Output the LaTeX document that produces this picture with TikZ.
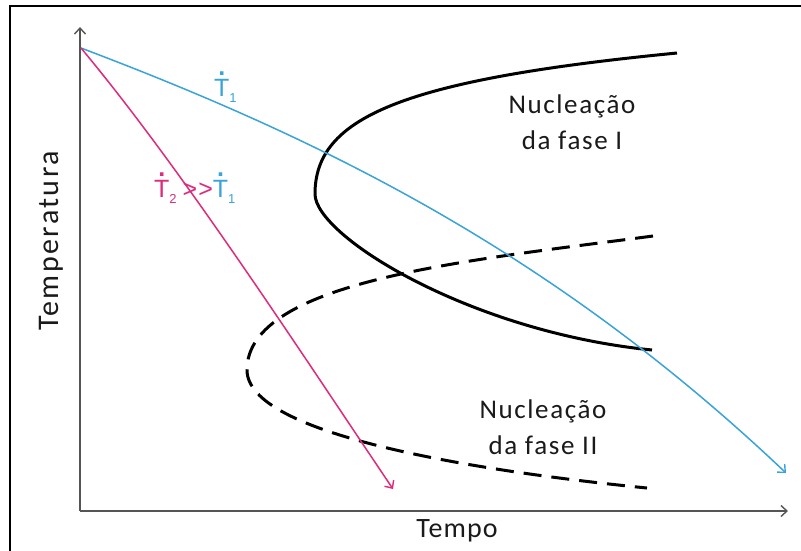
\documentclass[tikz,border=0pt]{standalone}
\usepackage{fontspec}
\setmainfont{Carlito}
\newfontfamily\ratefont{Liberation Sans}
\usetikzlibrary{arrows.meta,positioning}
\definecolor{diagramText}{HTML}{1A1A1A}
\definecolor{axisColor}{HTML}{555555}
\definecolor{slowColor}{HTML}{3AA3DA}
\definecolor{fastColor}{HTML}{DD2C7C}
\newcommand{\ratemath}[1]{\ooalign{T\cr\hidewidth\raisebox{0.84em}{\textbf{.}}\hidewidth\cr}\raisebox{-0.27em}{\fontsize{13}{13}\selectfont #1}}

\begin{document}
\begin{tikzpicture}[
  x=1pt, y=-1pt,
  barb/.tip={Straight Barb[length=6pt,width=11pt,line width=1.4pt]},
  frame/.style={draw=black, line width=2pt},
  axis/.style={-barb, draw=axisColor, line width=1.8pt},
  label/.style={text=diagramText, font=\fontsize{28}{34}\selectfont\addfontfeature{LetterSpace=4}, inner sep=0pt},
  phase/.style={text=diagramText, align=center, font=\fontsize{27}{36}\selectfont\addfontfeature{LetterSpace=6}, inner sep=0pt},
  rate/.style={font=\ratefont\fontsize{25}{30}\selectfont, inner sep=0pt, anchor=base west},
  slow/.style={-barb, draw=slowColor, line width=1.5pt},
  fast/.style={-barb, draw=fastColor, line width=1.5pt},
  curveone/.style={draw=black, line width=3pt},
  curvetwo/.style={draw=black, line width=3pt, dash pattern=on 18pt off 10pt}
]
\useasboundingbox (0,0) rectangle (801,550);
\fill[white] (0,0) rectangle (801,550);
\draw[frame] (10,560) -- (10,6) -- (810,6);

% axes
\coordinate (axis-origin) at (80,511);
\coordinate (axis-top) at (80,27);
\coordinate (axis-right) at (788,511);
\draw[axis] (axis-origin) -- (axis-top);
\draw[axis] (axis-origin) -- (axis-right);
\node[label] (tempo) at (457,531) {Tempo};
\node[label, rotate=90, font=\fontsize{30}{34}\selectfont\addfontfeature{LetterSpace=8}] (temperatura) at (51,241) {Temperatura};

% nucleation curves
\coordinate (one-top) at (677,53);
\coordinate (one-nose) at (315,194);
\coordinate (one-low) at (652,350);
\draw[curveone] (one-top) .. controls (400,80) and (315,118) .. (one-nose)
  .. controls (315,236) and (470,332) .. (one-low);
\coordinate (two-top) at (653,236);
\coordinate (two-nose) at (247,370);
\coordinate (two-low) at (647,488);
\draw[curvetwo] (two-top) .. controls (473,260) and (247,280) .. (two-nose)
  .. controls (247,435) and (477,471) .. (two-low);

% cooling paths
\coordinate (cool-start) at (81,48);
\coordinate (slow-end) at (786,473);
\coordinate (fast-end) at (393,489);
\draw[slow] (cool-start) .. controls (316,137) and (550,249) .. (slow-end);
\draw[fast] (cool-start) .. controls (181,168) and (292,339) .. (fast-end);

\node[rate, text=slowColor] (rate-slow) at (214,96) {\ratemath{1}};
\node[rate] (rate-fast) at (154,197) {\textcolor{fastColor}{\ratemath{2}\hspace{6pt}>\kern1pt>}\textcolor{slowColor}{\ratemath{1}}};

\node[phase] (phase-one) at (572,122) {Nucleação\\da fase I};
\node[phase] (phase-two) at (543,427) {Nucleação\\da fase II};
\end{tikzpicture}
\end{document}
